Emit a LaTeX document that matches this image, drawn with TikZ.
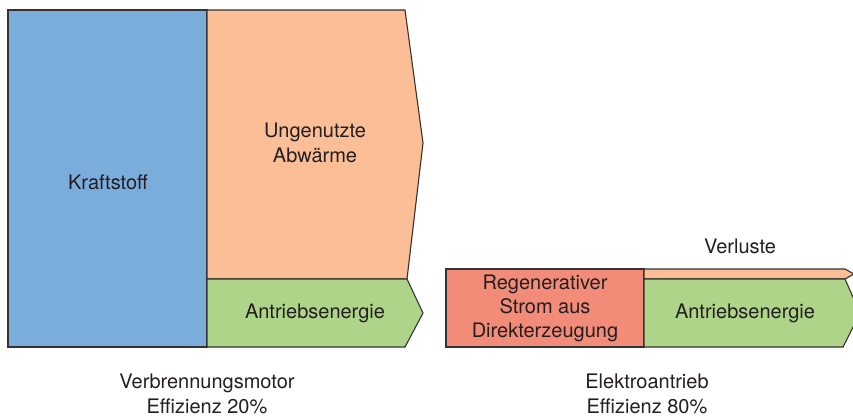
\documentclass[tikz,border=0pt]{standalone}
\usepackage{fontspec}
\setmainfont{TeX Gyre Heros}
\definecolor{cblue}{HTML}{7AADDC}
\definecolor{corange}{HTML}{FBBE96}
\definecolor{cgreen}{HTML}{AED48A}
\definecolor{cred}{HTML}{F28C78}
\definecolor{cline}{HTML}{333333}
\definecolor{ctext}{HTML}{231F20}
\begin{document}
\begin{tikzpicture}[x=1pt,y=-1pt,
  blockline/.style={draw=cline,line width=1.1pt,line join=miter},
  lbl/.style={text=ctext,font=\fontsize{20}{25}\selectfont,align=center,inner sep=0pt}]
\useasboundingbox (0,0) rectangle (853,416);
\clip (0,0) rectangle (853,416);
% left diagram
\path[blockline,fill=cblue] (8,10) rectangle (207,347);
\path[blockline,fill=corange] (207,10) -- (405,10) -- (423,143) -- (407,279) -- (207,279) -- cycle;
\path[blockline,fill=cgreen] (207,279) -- (407,279) -- (423,313) -- (405,347) -- (207,347) -- cycle;
\node[lbl] (kraft) at (108,182) {Kraftstoff};
\node[lbl] (abw) at (315,143) {Ungenutzte\\Abwärme};
\node[lbl] (antl) at (315,313) {Antriebsenergie};
\node[lbl] (verb) at (207,394) {Verbrennungsmotor\\Effizienz 20\%};
% right diagram
\path[blockline,fill=cred] (446,269) rectangle (644,347);
\path[blockline,fill=corange] (644,269) -- (845,269) -- (854,274) -- (845,279) -- (644,279) -- cycle;
\path[blockline,fill=cgreen] (644,279) -- (845,279) -- (860,313) -- (843,347) -- (644,347) -- cycle;
\node[lbl,font=\fontsize{20}{24}\selectfont] (reg) at (545,308) {Regenerativer\\Strom aus\\Direkterzeugung};
\node[lbl] (antr) at (745,313) {Antriebsenergie};
\node[lbl] (verl) at (740,246) {Verluste};
\node[lbl] (elek) at (647,394) {Elektroantrieb\\Effizienz 80\%};
\end{tikzpicture}
\end{document}
